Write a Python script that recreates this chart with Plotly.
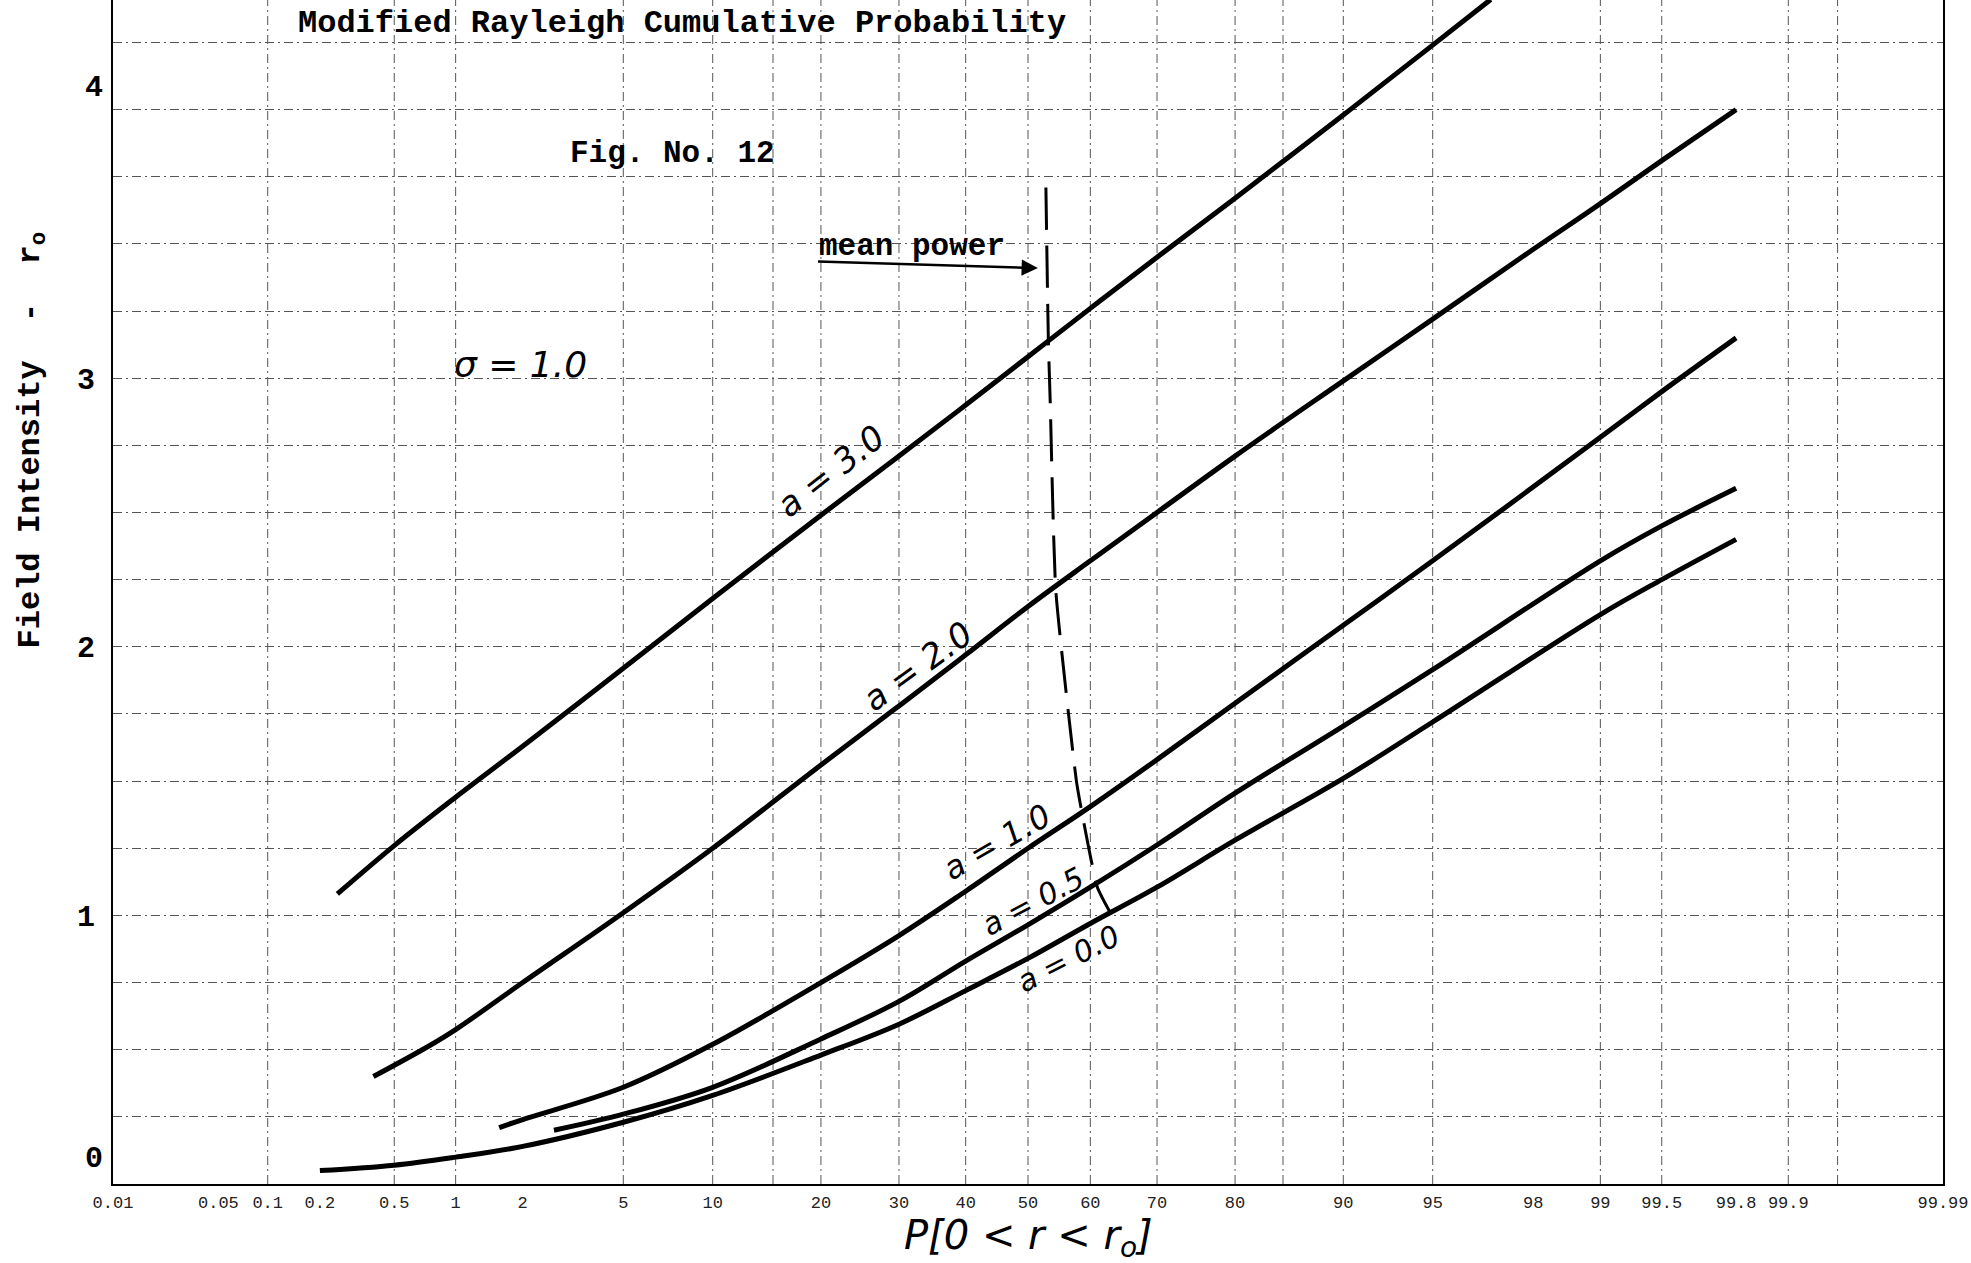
from statistics import NormalDist
import plotly.graph_objects as go

# ---------------- data (P in %, r0) ----------------
p_a30 = [0.25, 0.5, 1, 2, 5, 10, 20, 30, 40, 50, 60, 70, 80, 90, 95, 97]
r_a30 = [1.08, 1.26, 1.44, 1.63, 1.92, 2.18, 2.49, 2.71, 2.90, 3.08, 3.26, 3.45, 3.67, 3.98, 4.24, 4.41]

p_a20 = [0.39, 0.73, 1, 2, 5, 10, 20, 30, 40, 50, 60, 70, 80, 90, 95, 98, 99, 99.5, 99.8]
r_a20 = [0.40, 0.51, 0.575, 0.75, 1.01, 1.25, 1.56, 1.78, 1.97, 2.15, 2.32, 2.50, 2.71, 2.99, 3.22, 3.48, 3.65, 3.81, 4.00]

p_a10 = [1.58, 2, 5, 10, 20, 30, 40, 50, 60, 70, 80, 90, 95, 99, 99.5, 99.8]
r_a10 = [0.21, 0.24, 0.36, 0.52, 0.75, 0.925, 1.09, 1.25, 1.405, 1.58, 1.79, 2.08, 2.32, 2.78, 2.95, 3.15]

p_a05 = [2.7, 5, 10, 20, 30, 40, 50, 60, 70, 80, 90, 95, 99, 99.5, 99.8]
r_a05 = [0.20, 0.26, 0.36, 0.54, 0.68, 0.83, 0.965, 1.105, 1.262, 1.455, 1.705, 1.915, 2.32, 2.45, 2.59]

p_a00 = [0.2, 0.5, 1, 2, 5, 10, 20, 30, 40, 50, 60, 70, 80, 90, 95, 99, 99.5, 99.8]
r_a00 = [0.05, 0.07, 0.10, 0.14, 0.23, 0.33, 0.48, 0.595, 0.72, 0.84, 0.97, 1.105, 1.28, 1.51, 1.72, 2.12, 2.25, 2.40]

p_mean = [52.9, 53.3, 53.6, 54.5, 57.8, 58.7, 61.1, 63.1]
r_mean = [3.71, 3.14, 2.91, 2.21, 1.50, 1.38, 1.105, 1.01]

tick_p = [0.01, 0.05, 0.1, 0.2, 0.5, 1, 2, 5, 10, 20, 30, 40, 50, 60, 70, 80, 90,
          95, 98, 99, 99.5, 99.8, 99.9, 99.99]
tick_text = ["0.01", "0.05", "0.1", "0.2", "0.5", "1", "2", "5", "10", "20", "30", "40",
             "50", "60", "70", "80", "90", "95", "98", "99", "99.5", "99.8", "99.9", "99.99"]
grid_p = [0.1, 0.5, 1, 5, 10, 15, 20, 30, 40, 50, 60, 70, 80, 85, 90, 95, 99, 99.5, 99.9, 99.95]
y_grid = [i * 0.25 for i in range(1, 18)]
y_axis_labels = {1: "1", 2: "2", 3: "3"}
# the typed "0" and "4" sit a little above their grid lines in the reference
y_offset_labels = [("0", 0.094), ("4", 4.08)]

# ---------------- normal-probability scale ----------------
ND = NormalDist()


def zx(p):
    return ND.inv_cdf(p / 100.0)


X_MIN, X_MAX = zx(0.01), zx(99.99)
Y_MAX = 4.408
PLOT_H = 1263 - 79  # plot-area height in px (for paper-relative placement)
PLOT_W = 1971 - 113 - 28

MONO = "Liberation Mono, Courier New, monospace"
HAND = "DejaVu Sans, Noto Sans, sans-serif"
GRID = "#555555"
GRID_DASH = "9px,4px,2px,4px"

fig = go.Figure()

curves = [(p_a30, r_a30), (p_a20, r_a20), (p_a10, r_a10), (p_a05, r_a05), (p_a00, r_a00)]
for ps, rs in curves:
    fig.add_trace(go.Scatter(
        x=[zx(p) for p in ps], y=rs, mode="lines",
        line=dict(color="black", width=5, shape="spline", smoothing=1.0),
        hoverinfo="skip", showlegend=False))

fig.add_trace(go.Scatter(
    x=[zx(p) for p in p_mean], y=r_mean, mode="lines",
    line=dict(color="black", width=3, dash="42px,16px", shape="spline", smoothing=0.5),
    hoverinfo="skip", showlegend=False))

# vertical grid lines of the probability paper
shapes = []
for p in grid_p:
    shapes.append(dict(type="line", xref="x", yref="paper", x0=zx(p), x1=zx(p), y0=0, y1=1,
                       line=dict(color=GRID, width=1, dash=GRID_DASH), layer="below"))

annotations = []


def txt(p, y, text, size, font=MONO, angle=0, weight="normal"):
    annotations.append(dict(x=zx(p), y=y, xref="x", yref="y", text=text, showarrow=False,
                            font=dict(family=font, size=size, color="black", weight=weight),
                            textangle=angle, xanchor="center", yanchor="middle"))


txt(8.0, 4.322, "Modified Rayleigh Cumulative Probability", 32, weight="bold")
txt(7.4, 3.838, "Fig. No. 12", 31, weight="bold")
txt(31.8, 3.49, "mean power", 31, weight="bold")
txt(1.95, 3.05, "<i>σ = 1.0</i>", 36, font=HAND)
txt(21.1, 2.655, "<i>a = 3.0</i>", 34, font=HAND, angle=-38)
txt(32.7, 1.929, "<i>a = 2.0</i>", 34, font=HAND, angle=-36)
txt(45.0, 1.273, "<i>a = 1.0</i>", 32, font=HAND, angle=-30)
txt(50.8, 1.05, "<i>a = 0.5</i>", 30, font=HAND, angle=-28)
txt(56.5, 0.841, "<i>a = 0.0</i>", 30, font=HAND, angle=-27)

# y labels "0" and "4", drawn slightly above their lines as in the reference
for lab, yv in y_offset_labels:
    annotations.append(dict(x=-19 / PLOT_W, y=yv, xref="paper", yref="y", text=lab,
                            showarrow=False, xanchor="center", yanchor="middle",
                            font=dict(family=MONO, size=30, color="black", weight="bold")))

# x-axis title (below the plot area)
annotations.append(dict(x=zx(50.0), y=-54 / PLOT_H, xref="x", yref="paper",
                        text="<i>P[0 &lt; r &lt; r<sub>o</sub>]</i>", showarrow=False,
                        font=dict(family=HAND, size=40, color="black"),
                        xanchor="center", yanchor="middle"))

# underline + arrow pointing to the mean-power line
annotations.append(dict(x=zx(51.6), y=3.41, xref="x", yref="y", ax=zx(19.5), ay=3.435,
                        axref="x", ayref="y", text="", showarrow=True, arrowhead=2,
                        arrowsize=1.3, arrowwidth=2.5, arrowcolor="black", standoff=0))

# y-axis title
annotations.append(dict(x=-0.044, y=2.77, xref="paper", yref="y",
                        text="Field Intensity\u00a0\u00a0-\u00a0\u00a0r<sub>o</sub>",
                        showarrow=False, textangle=-90,
                        font=dict(family=MONO, size=32, color="black", weight="bold"),
                        xanchor="center", yanchor="middle"))

y_tickvals = [0] + y_grid
y_ticktext = [y_axis_labels.get(int(v), "") if float(v).is_integer() else "" for v in y_tickvals]

fig.update_layout(
    width=1971, height=1263,
    margin=dict(l=113, r=28, t=0, b=79),
    paper_bgcolor="white", plot_bgcolor="white",
    shapes=shapes, annotations=annotations,
    xaxis=dict(range=[X_MIN, X_MAX], tickmode="array",
               tickvals=[zx(p) for p in tick_p], ticktext=tick_text,
               showgrid=False, zeroline=False, showline=True, linecolor="black",
               linewidth=1.5, ticks="", tickfont=dict(family=MONO, size=17, color="#222222"),
               ticklabelstandoff=2),
    yaxis=dict(range=[0, Y_MAX], tickmode="array", tickvals=y_tickvals, ticktext=y_ticktext,
               showgrid=True, gridcolor=GRID, gridwidth=1, griddash=GRID_DASH,
               zeroline=False, showline=True, mirror=True, linecolor="black", linewidth=2,
               ticks="", tickfont=dict(family=MONO, size=30, color="black", weight="bold"),
               ticklabelstandoff=10),
)

fig.write_html("out.html", config={"displayModeBar": False},
               post_script="document.body.style.margin='0';document.body.style.overflow='hidden';")
